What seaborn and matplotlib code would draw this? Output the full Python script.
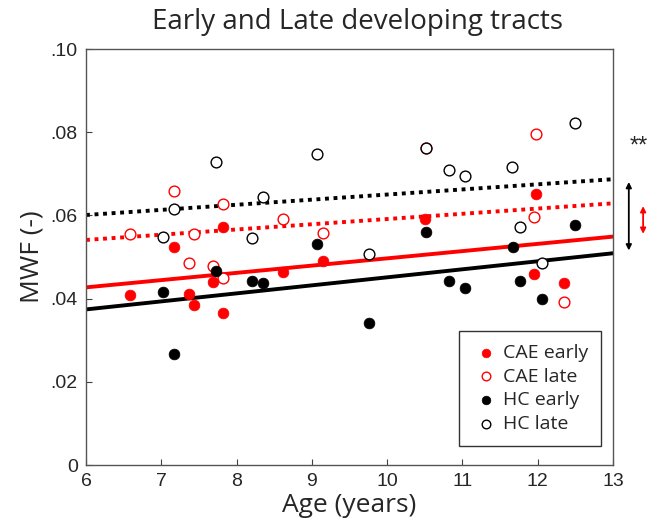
import numpy as np
import pandas as pd
import matplotlib
matplotlib.use("Agg")
import matplotlib.pyplot as plt
import seaborn as sns

# ---- data ----
cae_early_age = [6.58, 7.17, 7.37, 7.44, 7.69, 7.82, 7.82, 8.62, 9.15, 10.50, 11.95, 11.98, 12.35]
cae_early_mwf = [0.0409, 0.0523, 0.0411, 0.0385, 0.0439, 0.0573, 0.0365, 0.0463, 0.0490, 0.0591, 0.0458, 0.0651, 0.0438]

cae_late_age = [6.58, 7.17, 7.37, 7.44, 7.69, 7.82, 7.82, 8.62, 9.15, 10.51, 11.95, 11.98, 12.35]
cae_late_mwf = [0.0555, 0.0659, 0.0486, 0.0555, 0.0478, 0.0627, 0.0449, 0.0591, 0.0557, 0.0763, 0.0595, 0.0795, 0.0391]

hc_early_age = [7.02, 7.17, 7.73, 8.21, 8.35, 9.07, 9.76, 10.51, 10.82, 11.04, 11.67, 11.77, 12.06, 12.49]
hc_early_mwf = [0.0417, 0.0268, 0.0467, 0.0443, 0.0437, 0.0531, 0.0341, 0.0560, 0.0443, 0.0425, 0.0525, 0.0442, 0.0399, 0.0577]

hc_late_age = [7.02, 7.17, 7.73, 8.21, 8.35, 9.07, 9.76, 10.51, 10.82, 11.04, 11.66, 11.77, 12.06, 12.49]
hc_late_mwf = [0.0547, 0.0615, 0.0729, 0.0545, 0.0645, 0.0748, 0.0507, 0.0763, 0.0709, 0.0695, 0.0716, 0.0572, 0.0485, 0.0823]

# fitted lines: value at age 6 and age 13
line_ages = [6, 13]
fit_cae_early = [0.0427, 0.0549]
fit_cae_late = [0.0541, 0.0629]
fit_hc_early = [0.0374, 0.0509]
fit_hc_late = [0.0601, 0.0687]

series_names = ["CAE early", "CAE late", "HC early", "HC late"]
x_ticks = [6, 7, 8, 9, 10, 11, 12, 13]
y_ticks = [0, 0.02, 0.04, 0.06, 0.08, 0.10]
y_tick_labels = ["0", ".02", ".04", ".06", ".08", ".10"]

# ---- build frames ----
pts = pd.concat([
    pd.DataFrame({"age": cae_early_age, "mwf": cae_early_mwf, "group": "CAE early"}),
    pd.DataFrame({"age": cae_late_age, "mwf": cae_late_mwf, "group": "CAE late"}),
    pd.DataFrame({"age": hc_early_age, "mwf": hc_early_mwf, "group": "HC early"}),
    pd.DataFrame({"age": hc_late_age, "mwf": hc_late_mwf, "group": "HC late"}),
], ignore_index=True)

fits = {"CAE early": fit_cae_early, "CAE late": fit_cae_late,
        "HC early": fit_hc_early, "HC late": fit_hc_late}

sns.set_theme(style="white")
plt.rcParams["font.family"] = ["Liberation Sans", "DejaVu Sans"]

fig = plt.figure(figsize=(6.48, 5.31), dpi=100)
ax = fig.add_axes([86/648, 66/531, (613-86)/648, (465-49)/531])

color = {"CAE early": "#ff0000", "CAE late": "#ff0000", "HC early": "#000000", "HC late": "#000000"}
style = {"CAE early": "-", "CAE late": (0, (1, 1.2)), "HC early": "-", "HC late": (0, (1, 1.2))}

for name in series_names:
    d = pd.DataFrame({"age": line_ages, "mwf": fits[name]})
    sns.lineplot(data=d, x="age", y="mwf", ax=ax, color=color[name],
                 linestyle=style[name], linewidth=2.8, zorder=2)

for name in series_names:
    d = pts[pts.group == name]
    filled = "early" in name
    if filled:
        sns.scatterplot(data=d, x="age", y="mwf", ax=ax, s=60, color=color[name],
                        edgecolor=color[name], linewidth=0.5, zorder=3, label=name)
    else:
        sns.scatterplot(data=d, x="age", y="mwf", ax=ax, s=60, facecolor="white",
                        edgecolor=color[name], linewidth=1.0, zorder=3, label=name)

ax.set_xlim(6, 13)
ax.set_ylim(0, 0.10)
ax.set_xticks(x_ticks)
ax.set_xticklabels([str(t) for t in x_ticks], fontsize=14, color="#262626")
ax.set_yticks(y_ticks)
ax.set_yticklabels(y_tick_labels, fontsize=14, color="#262626")
ax.tick_params(direction="in", length=4, width=0.8, color="#404040",
               bottom=True, left=True, top=False, right=False, pad=6)
for sp in ax.spines.values():
    sp.set_color("#555555")
    sp.set_linewidth(1.0)

ax.set_xlabel("Age (years)", fontsize=19, family=["Open Sans", "DejaVu Sans"], labelpad=2)
ax.set_ylabel("MWF (-)", fontsize=19, family=["Open Sans", "DejaVu Sans"], labelpad=4)
fig.text(357/648, 1 - 22/531, "Early and Late developing tracts", ha="center", va="center",
         fontsize=20, family=["Open Sans", "DejaVu Sans"])

leg = ax.legend(loc="lower right", bbox_to_anchor=(0.977, 0.046), borderaxespad=0,
                frameon=True, fancybox=False,
                prop={"family": ["Open Sans", "DejaVu Sans"], "size": 14},
                handletextpad=0.1, labelspacing=0.3, borderpad=0.65, markerscale=0.8,
                handlelength=1.5)
leg.get_frame().set_edgecolor("#000000")
leg.get_frame().set_linewidth(1.0)

# significance annotations outside the axes
ax.annotate("", xy=(13.21, fit_hc_early[1]), xytext=(13.21, fit_hc_late[1]),
            arrowprops=dict(arrowstyle="<|-|>", color="black", lw=1.3, mutation_scale=8),
            annotation_clip=False)
ax.annotate("", xy=(13.40, fit_cae_early[1]), xytext=(13.40, fit_cae_late[1]),
            arrowprops=dict(arrowstyle="<|-|>", color="red", lw=1.3, mutation_scale=8),
            annotation_clip=False)
ax.text(13.34, 0.0765, "**", ha="center", va="center", fontsize=17, clip_on=False)

fig.savefig("out.png", dpi=100)
